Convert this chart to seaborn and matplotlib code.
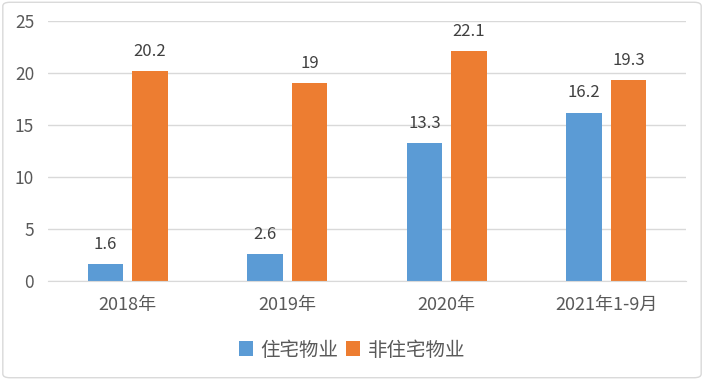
import matplotlib
matplotlib.use("Agg")
import matplotlib.pyplot as plt
import seaborn as sns
import pandas as pd
from matplotlib.patches import FancyBboxPatch

categories = ["2018年", "2019年", "2020年", "2021年1-9月"]
residential = [1.6, 2.6, 13.3, 16.2]
non_residential = [20.2, 19, 22.1, 19.3]
series_names = ["住宅物业", "非住宅物业"]

df = pd.DataFrame({
    "cat": categories * 2,
    "val": residential + non_residential,
    "series": [series_names[0]] * 4 + [series_names[1]] * 4,
})

sns.set_style("white")
plt.rcParams["font.family"] = ["Noto Sans CJK SC", "DejaVu Sans"]

fig = plt.figure(figsize=(7.04, 3.80), dpi=100)
ax = fig.add_axes([48 / 704, 1 - 281 / 380, 638 / 704, 260 / 380])

sns.barplot(data=df, x="cat", y="val", hue="series", order=categories,
            hue_order=series_names, palette=["#5B9BD5", "#ED7D31"],
            saturation=1, width=0.56, gap=0.2, linewidth=0, ax=ax, legend=True)

for cont in ax.containers:
    labels = [f"{v:g}" for v in cont.datavalues]
    ax.bar_label(cont, labels=labels, padding=8, fontsize=12, color="#404040")

ax.set_ylim(0, 25)
ax.set_yticks(range(0, 26, 5))
ax.yaxis.grid(True, color="#D9D9D9", linewidth=1)
ax.set_axisbelow(True)
for s in ["left", "right", "top"]:
    ax.spines[s].set_visible(False)
ax.spines["bottom"].set_color("#D9D9D9")
ax.tick_params(axis="both", length=0, labelcolor="#595959")
ax.tick_params(axis="x", pad=11, labelsize=13)
ax.tick_params(axis="y", pad=10, labelsize=12.5)
ax.set_xlabel("")
ax.set_ylabel("")

handles, labels = ax.get_legend_handles_labels()
ax.get_legend().remove()
leg = fig.legend(handles, labels, loc="center", bbox_to_anchor=(0.5, 1 - 350 / 380),
                 ncol=2, frameon=False, fontsize=14, handlelength=0.7,
                 handleheight=0.8, columnspacing=0.4, handletextpad=0.4)
for t in leg.get_texts():
    t.set_color("#595959")

fig.patches.append(FancyBboxPatch((0.004, 0.006), 0.992, 0.988,
                                  boxstyle="round,pad=0,rounding_size=0.01",
                                  transform=fig.transFigure, fill=False,
                                  edgecolor="#D9D9D9", linewidth=1))

fig.savefig("out.png", dpi=100)
